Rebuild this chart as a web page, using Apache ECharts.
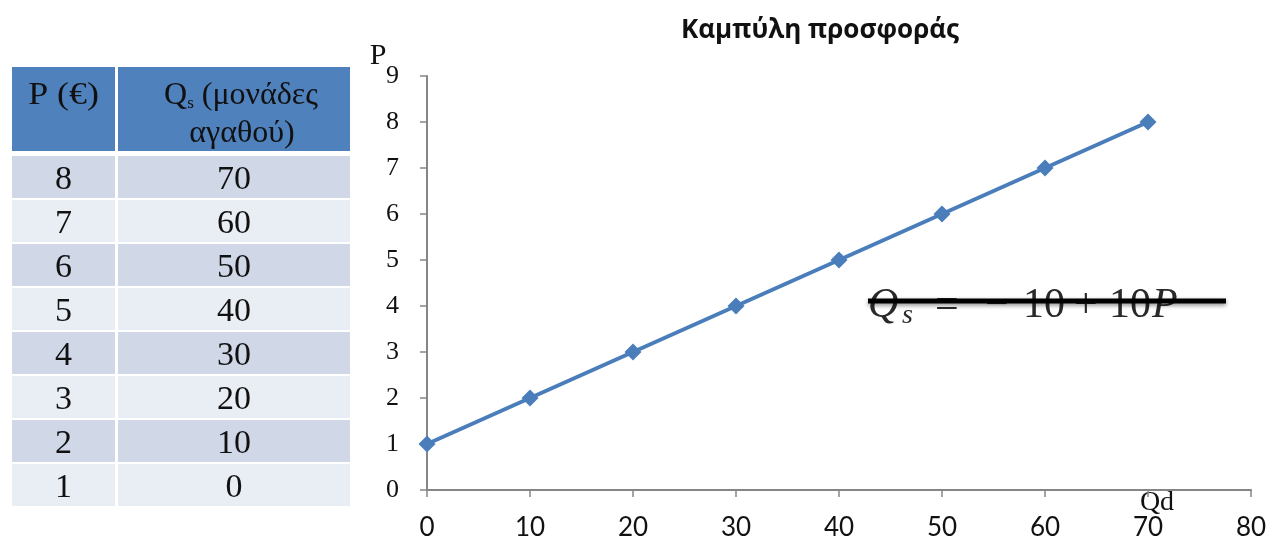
<!DOCTYPE html>
<html><head><meta charset="utf-8">
<script src="https://cdn.jsdelivr.net/npm/echarts@6/dist/echarts.min.js"></script>
<style>html,body{margin:0;padding:0;background:#fff}#c{width:1276px;height:541px}</style>
</head><body><div id="c"></div>
<script>
const prices = [8, 7, 6, 5, 4, 3, 2, 1];
const quantities = [70, 60, 50, 40, 30, 20, 10, 0];
const xTicks = [0, 10, 20, 30, 40, 50, 60, 70, 80];
const yTicks = [0, 1, 2, 3, 4, 5, 6, 7, 8, 9];
const title = 'Καμπύλη προσφοράς';

const chart = echarts.init(document.getElementById('c'));
const graphics = [];
const SER = '"Liberation Serif"';
// table header
const colL = {x: 12, w: 103}, colR = {x: 118, w: 232};
graphics.push({type:'rect', shape:{x:colL.x,y:67,width:colL.w,height:84}, style:{fill:'#4F81BD'}});
graphics.push({type:'rect', shape:{x:colR.x,y:67,width:colR.w,height:84}, style:{fill:'#4F81BD'}});
graphics.push({type:'text', x: colL.x + colL.w/2, y: 96, scaleX: 1.12, style:{text:'P (€)', font:'32px ' + SER, fill:'#111', align:'center', verticalAlign:'middle'}});
graphics.push({type:'text', x: colR.x + colR.w/2 + 7, y: 96, style:{
  text:'{q|Q}{s|s}{q| (μονάδες}', align:'center', verticalAlign:'middle', fill:'#111',
  rich:{q:{font:'32px ' + SER, fill:'#111'}, s:{font:'17px ' + SER, fill:'#111', padding:[16,0,0,0]}}}});
graphics.push({type:'text', x: colR.x + colR.w/2 + 8, y: 134, style:{text:'αγαθού)', font:'32px ' + SER, fill:'#111', align:'center', verticalAlign:'middle'}});
prices.forEach((p, i) => {
  const top = 156 + i*44;
  const h = 42;
  const fill = i % 2 === 0 ? '#D0D8E8' : '#E9EDF4';
  graphics.push({type:'rect', shape:{x:colL.x,y:top,width:colL.w,height:h}, style:{fill}});
  graphics.push({type:'rect', shape:{x:colR.x,y:top,width:colR.w,height:h}, style:{fill}});
  graphics.push({type:'text', x: colL.x + colL.w/2, y: top + h/2 + 3, style:{text:String(p), font:'34px ' + SER, fill:'#111', align:'center', verticalAlign:'middle'}});
  graphics.push({type:'text', x: colR.x + colR.w/2, y: top + h/2 + 3, style:{text:String(quantities[i]), font:'34px ' + SER, fill:'#111', align:'center', verticalAlign:'middle'}});
});
// axis names
graphics.push({type:'text', x: 378, y: 56, style:{text:'P', font:'30px ' + SER, fill:'#111', align:'center', verticalAlign:'middle'}});
graphics.push({type:'text', x: 1157, y: 503, style:{text:'Qd', font:'28px ' + SER, fill:'#111', align:'center', verticalAlign:'middle'}});
// equation pieces
const eqY = 306;
const eqFont = '42px ' + SER;
const eqCol = '#2a2a2a';
const eqParts = [
  {t:'Q', x:868, f:'italic ' + eqFont},
  {t:'s', x:902, f:'italic 28px ' + SER, dy:10},
  {t:'=', x:935, f:eqFont},
  {t:'−', x:985, f:eqFont},
  {t:'10', x:1023, f:eqFont},
  {t:'+', x:1074, f:eqFont},
  {t:'10', x:1109, f:eqFont},
  {t:'P', x:1152, f:'italic ' + eqFont}
];
eqParts.forEach(e => graphics.push({type:'text', x:e.x, y:eqY + (e.dy||0), z:10,
  style:{text:e.t, font:e.f, fill:eqCol, verticalAlign:'middle', shadowBlur:2, shadowColor:'rgba(0,0,0,0.25)'}}));
graphics.push({type:'line', z: 11, shape:{x1:868,y1:301,x2:1226,y2:301}, style:{stroke:'#000', lineWidth:5, shadowBlur:4, shadowColor:'rgba(0,0,0,0.45)', shadowOffsetY:2}});

chart.setOption({
  animation:false,
  title:{text:title, left:815, top:13, textAlign:'center', textStyle:{fontFamily:'Open Sans', fontWeight:'bold', fontSize:26, color:'#111'}},
  grid:{left:427, right:25, top:76, bottom:51},
  xAxis:{type:'value', min:xTicks[0], max:xTicks[xTicks.length-1], interval:10,
    axisLine:{lineStyle:{color:'#868686', width:2}}, axisTick:{show:true, length:7, lineStyle:{color:'#868686', width:1.5}},
    splitLine:{show:false}, axisLabel:{fontFamily:'Lato', fontSize:26, color:'#111', margin:25}},
  yAxis:{type:'value', min:yTicks[0], max:yTicks[yTicks.length-1], interval:1,
    axisLine:{show:true, lineStyle:{color:'#868686', width:2}}, axisTick:{show:true, length:7, lineStyle:{color:'#868686', width:1.5}},
    splitLine:{show:false}, axisLabel:{fontFamily:'Liberation Serif', fontSize:26, color:'#111', margin:28}},
  series:[{type:'line', data: quantities.map((q,i)=>[q, prices[i]]), symbol:'diamond', symbolSize:17,
    lineStyle:{color:'#4A7EBB', width:4}, itemStyle:{color:'#4A7EBB'}}],
  graphic: graphics
});
</script></body></html>
